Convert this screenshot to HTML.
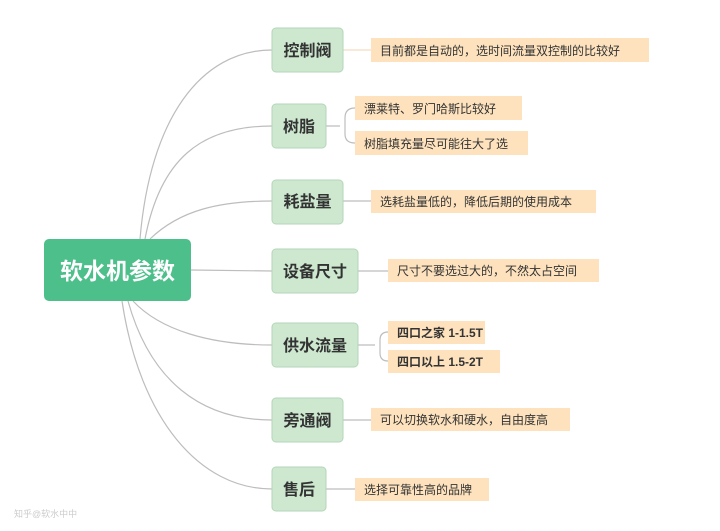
<!DOCTYPE html>
<html><head><meta charset="utf-8"><style>
html,body{margin:0;padding:0;background:#fff;width:720px;height:531px;overflow:hidden}
text{font-family:"Liberation Sans","Noto Sans CJK SC",sans-serif}
</style></head><body>
<svg width="720" height="531" xmlns="http://www.w3.org/2000/svg">
<g fill="none" stroke="#bdbdbd" stroke-width="1.2">
<path d="M140 239 C150 120,200 50,272 50"/>
<path d="M145 239 C160 160,200 126,272 126"/>
<path d="M150 239 C180 210,220 201,272 201"/>
<path d="M191 270 L272 271"/>
<path d="M133 301 C160 330,210 345,272 345"/>
<path d="M128 301 C150 380,200 420,272 420"/>
<path d="M122 301 C140 420,200 489,272 489"/>
<path d="M343 50 L371 50" stroke="#f3dcc0"/>
<path d="M326 126 L340 126 M355 108 Q345 108 345 118 L345 134 Q345 143 355 143"/>
<path d="M343 201 L371 201"/>
<path d="M358 271 L388 271"/>
<path d="M358 345 L375 345 M388 332 Q380 332 380 340 L380 353 Q380 361 388 361"/>
<path d="M343 420 L371 420"/>
<path d="M326 489 L355 489"/>
</g>
<rect x="44" y="239" width="147" height="62" rx="5" fill="#4dbf8b"/>
<text x="117.5" y="279" font-size="23" font-weight="bold" fill="#fff" text-anchor="middle">软水机参数</text>
<g fill="#cde8cf" stroke="#b3d6b8" stroke-width="1">
<rect x="272" y="28" width="71" height="44" rx="4"/>
<rect x="272" y="104" width="54" height="44" rx="4"/>
<rect x="272" y="180" width="71" height="44" rx="4"/>
<rect x="272" y="249" width="86" height="44" rx="4"/>
<rect x="272" y="323" width="86" height="44" rx="4"/>
<rect x="272" y="398" width="71" height="44" rx="4"/>
<rect x="272" y="467" width="54" height="44" rx="4"/>
</g>
<g font-size="16" font-weight="bold" fill="#333" text-anchor="middle">
<text x="307.5" y="56">控制阀</text>
<text x="299" y="132">树脂</text>
<text x="307.5" y="207">耗盐量</text>
<text x="315" y="277">设备尺寸</text>
<text x="315" y="351">供水流量</text>
<text x="307.5" y="426">旁通阀</text>
<text x="299" y="495">售后</text>
</g>
<g fill="#fde2bd">
<rect x="371" y="38" width="278" height="24"/>
<rect x="355" y="96" width="167" height="24"/>
<rect x="355" y="131" width="173" height="24"/>
<rect x="371" y="190" width="225" height="23"/>
<rect x="388" y="259" width="211" height="23"/>
<rect x="388" y="321" width="97" height="23"/>
<rect x="388" y="350" width="112" height="23"/>
<rect x="371" y="408" width="199" height="23"/>
<rect x="355" y="478" width="134" height="23"/>
</g>
<g font-size="12" fill="#333">
<text x="380" y="55">目前都是自动的，选时间流量双控制的比较好</text>
<text x="364" y="113">漂莱特、罗门哈斯比较好</text>
<text x="364" y="148">树脂填充量尽可能往大了选</text>
<text x="380" y="206">选耗盐量低的，降低后期的使用成本</text>
<text x="397" y="275">尺寸不要选过大的，不然太占空间</text>
<text x="397" y="337" font-weight="bold">四口之家 1-1.5T</text>
<text x="397" y="366" font-weight="bold">四口以上 1.5-2T</text>
<text x="380" y="424">可以切换软水和硬水，自由度高</text>
<text x="364" y="494">选择可靠性高的品牌</text>
</g>
<text x="14" y="517" font-size="9" fill="#ccc">知乎@软水中中</text>
</svg>
</body></html>
